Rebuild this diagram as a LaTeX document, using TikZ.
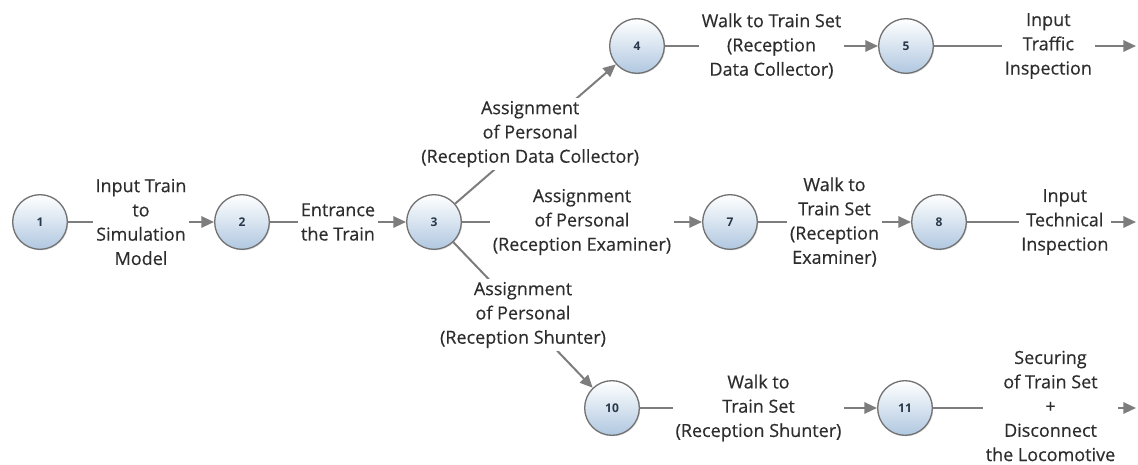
\documentclass[tikz,border=0pt]{standalone}
\usepackage{fontspec}
\setmainfont{Open Sans}
\newfontfamily\lblfont[FakeBold=0.35]{Open Sans}
\usetikzlibrary{arrows.meta,shadows}
\definecolor{edgegray}{RGB}{125,125,125}
\definecolor{ringgray}{RGB}{115,115,115}
\definecolor{ballblue}{RGB}{176,200,224}
\definecolor{txtgray}{RGB}{45,45,45}
\definecolor{numblue}{RGB}{40,55,75}

\begin{document}
\begin{tikzpicture}[x=0.75pt, y=-0.75pt,
    state/.style={circle, minimum size=41pt, inner sep=0pt, draw=ringgray, line width=1pt,
      top color=white, bottom color=ballblue, text=numblue,
      font=\fontsize{9}{10}\selectfont\bfseries,
      drop shadow={opacity=0.2, shadow xshift=0.8pt, shadow yshift=-0.8pt}},
    lbl/.style={fill=white, inner sep=2pt, align=center, text=txtgray,
      font=\lblfont\fontsize{13.5}{18.2}\selectfont},
    flow/.style={draw=edgegray, line width=1.5pt, -{Triangle[length=9.5pt,width=8.5pt]}}]
    \useasboundingbox (0,0) rectangle (1138,464);

    \node[state] (n1)  at (40,  222) {1};
    \node[state] (n2)  at (242, 222) {2};
    \node[state] (n3)  at (434, 222) {3};
    \node[state] (n4)  at (637,  46) {4};
    \node[state] (n5)  at (906,  46) {5};
    \node[state] (n7)  at (730, 222) {7};
    \node[state] (n8)  at (939, 222) {8};
    \node[state] (n10) at (612, 408) {10};
    \node[state] (n11) at (905, 408) {11};
    \coordinate (e5)  at (1136,  46);
    \coordinate (e8)  at (1136, 222);
    \coordinate (e11) at (1136, 408);

    \draw[flow] (n1) -- node[lbl] (l12) {Input Train\\to\\Simulation\\Model} (n2);
    \draw[flow] (n2) -- node[lbl] (l23) {Entrance\\the Train} (n3);
    \draw[flow] (n3) -- node[lbl, xshift=-4pt] (l34) {Assignment\\of Personal\\(Reception Data Collector)} (n4);
    \draw[flow] (n3) -- node[lbl] (l37) {Assignment\\of Personal\\(Reception Examiner)} (n7);
    \draw[flow] (n3) -- node[lbl] (l310) {Assignment\\of Personal\\(Reception Shunter)} (n10);
    \draw[flow] (n4) -- node[lbl] (l45) {Walk to Train Set\\(Reception\\Data Collector)} (n5);
    \draw[flow] (n5) -- node[lbl, xshift=10pt] (l5) {Input\\Traffic\\Inspection} (e5);
    \draw[flow] (n7) -- node[lbl] (l78) {Walk to\\Train Set\\(Reception\\Examiner)} (n8);
    \draw[flow] (n8) -- node[lbl, xshift=10pt] (l8) {Input\\Technical\\Inspection} (e8);
    \draw[flow] (n10) -- node[lbl] (l1011) {Walk to\\Train Set\\(Reception Shunter)} (n11);
    \draw[flow] (n11) -- node[lbl, xshift=12pt, yshift=1.5pt] (l11) {Securing\\of Train Set\\+\\Disconnect\\the Locomotive} (e11);

  \end{tikzpicture}
\end{document}
